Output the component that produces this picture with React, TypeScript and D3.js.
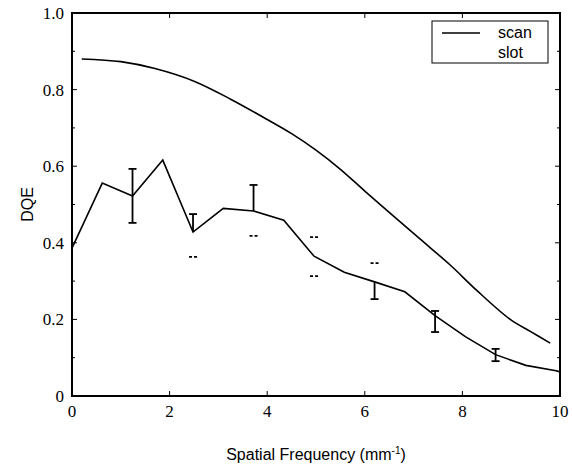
import React from "react";
import * as d3 from "d3";

const scanX = [0.2, 1.0, 1.7, 2.5, 3.25, 4.0, 4.5, 5.0, 5.5, 6.0, 6.66, 7.13, 7.75, 8.3, 8.98, 9.4, 9.8];
const scanY = [0.88, 0.873, 0.855, 0.822, 0.775, 0.722, 0.685, 0.642, 0.592, 0.535, 0.462, 0.41, 0.342, 0.275, 0.2, 0.168, 0.138];

const slotX = [0, 0.62, 1.24, 1.86, 2.48, 3.1, 3.72, 4.34, 4.96, 5.58, 6.2, 6.82, 7.44, 8.06, 8.68, 9.3, 9.92, 10];
const slotY = [0.386, 0.556, 0.522, 0.616, 0.428, 0.49, 0.483, 0.459, 0.365, 0.323, 0.298, 0.272, 0.21, 0.155, 0.108, 0.08, 0.066, 0.063];

const errX = [1.24, 2.48, 3.72, 4.96, 6.2, 7.44, 8.68];
const errLo = [0.452, 0.363, 0.418, 0.313, 0.253, 0.167, 0.091];
const errHi = [0.593, 0.475, 0.551, 0.415, 0.347, 0.222, 0.123];
// which part of the stem survives in the printed figure
const errStem = ["both", "upper", "upper", "none", "lower", "both", "both"];

const xTicks = [0, 2, 4, 6, 8, 10];
const yTicks = [0, 0.2, 0.4, 0.6, 0.8, 1.0];
const yTickLabels = ["0", "0.2", "0.4", "0.6", "0.8", "1.0"];
const yMinor = [0.1, 0.3, 0.5, 0.7, 0.9];
const legendLabels = ["scan", "slot"];

export default function App() {
  const L = 72, R = 560, T = 13, B = 396;
  const x = d3.scaleLinear().domain([0, 10]).range([L, R]);
  const y = d3.scaleLinear().domain([0, 1]).range([B, T]);
  const line = d3.line<[number, number]>().x(d => x(d[0])).y(d => y(d[1]));
  const smooth = d3.line<[number, number]>().x(d => x(d[0])).y(d => y(d[1])).curve(d3.curveCatmullRom);
  const scanPts = scanX.map((v, i) => [v, scanY[i]] as [number, number]);
  const slotPts = slotX.map((v, i) => [v, slotY[i]] as [number, number]);
  const cap = 4;
  const serifFont = "Liberation Serif, Times New Roman, serif";
  const sansFont = "Liberation Sans, Arial, sans-serif";

  return (
    <svg width={572} height={469} style={{ position: "absolute", left: 0, top: 0, background: "#fff" }}>
      <rect x={0} y={0} width={572} height={469} fill="#fff" />
      <path d={smooth(scanPts) || ""} fill="none" stroke="#000" strokeWidth={1.6} />
      <path d={line(slotPts) || ""} fill="none" stroke="#000" strokeWidth={1.6} />
      {errX.map((ex, i) => {
        const px = x(ex);
        const yl = y(errLo[i]);
        const yh = y(errHi[i]);
        const idx = slotX.findIndex(v => Math.abs(v - ex) < 1e-6);
        const ym = y(slotY[idx]);
        const s = errStem[i];
        const topDashed = s === "none" || s === "lower";
        const botDashed = s === "none" || s === "upper";
        return (
          <g key={i} stroke="#000" strokeWidth={1.8}>
            {(s === "both") && <line x1={px} x2={px} y1={yh} y2={yl} />}
            {(s === "upper") && <line x1={px} x2={px} y1={yh} y2={ym} />}
            {(s === "lower") && <line x1={px} x2={px} y1={ym} y2={yl} />}
            <line x1={px - cap} x2={px + cap} y1={yh} y2={yh} strokeDasharray={topDashed ? "3,2" : undefined} />
            <line x1={px - cap} x2={px + cap} y1={yl} y2={yl} strokeDasharray={botDashed ? "3,2" : undefined} />
          </g>
        );
      })}
      <rect x={L} y={T} width={R - L} height={B - T} fill="none" stroke="#000" strokeWidth={2} />
      {xTicks.slice(1, -1).map(t => (
        <g key={"xt" + t} stroke="#000" strokeWidth={1}>
          <line x1={x(t)} x2={x(t)} y1={B} y2={B - 5} />
          <line x1={x(t)} x2={x(t)} y1={T} y2={T + 5} />
        </g>
      ))}
      {yTicks.slice(1, -1).map(t => (
        <g key={"yt" + t} stroke="#000" strokeWidth={1}>
          <line x1={L} x2={L + 5} y1={y(t)} y2={y(t)} />
          <line x1={R} x2={R - 5} y1={y(t)} y2={y(t)} />
        </g>
      ))}
      {yMinor.map(t => (
        <g key={"ym" + t} stroke="#000" strokeWidth={1}>
          <line x1={L} x2={L + 3} y1={y(t)} y2={y(t)} />
          <line x1={R} x2={R - 3} y1={y(t)} y2={y(t)} />
        </g>
      ))}
      {xTicks.map(t => (
        <text key={"xl" + t} x={x(t)} y={B + 21} textAnchor="middle" fontFamily={serifFont} fontSize={17}>{t}</text>
      ))}
      {yTicks.map((t, i) => (
        <text key={"yl" + t} x={L - 8} y={y(t)} dy="0.35em" textAnchor="end" fontFamily={serifFont} fontSize={17}>{yTickLabels[i]}</text>
      ))}
      <text x={316} y={460} textAnchor="middle" fontFamily={sansFont} fontSize={16}>
        Spatial Frequency (mm<tspan dy={-6} fontSize={10}>-1</tspan><tspan dy={6}>)</tspan>
      </text>
      <text transform={`translate(27,${y(0.5)}) rotate(-90)`} textAnchor="middle" dy="0.35em" fontFamily={sansFont} fontSize={16}>DQE</text>
      <rect x={432} y={21} width={116} height={42} fill="#fff" stroke="#000" strokeWidth={1} />
      <line x1={442} x2={480} y1={33} y2={33} stroke="#000" strokeWidth={1.6} />
      <text x={498} y={38} fontFamily={sansFont} fontSize={16}>{legendLabels[0]}</text>
      <text x={498} y={58} fontFamily={sansFont} fontSize={16}>{legendLabels[1]}</text>
    </svg>
  );
}
